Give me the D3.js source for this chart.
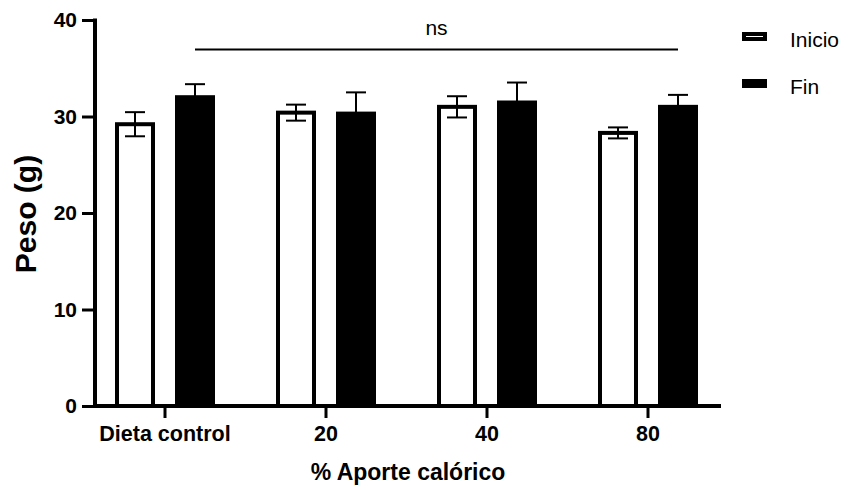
<!DOCTYPE html>
<html>
<head>
<meta charset="utf-8">
<script src="https://cdn.jsdelivr.net/npm/d3@7"></script>
<style>
  html, body { margin: 0; padding: 0; background: #fff; }
  svg { display: block; font-family: "Liberation Sans", Arial, sans-serif; }
</style>
</head>
<body>
<svg id="chart" width="849" height="490"></svg>
<script>
const categories = ["Dieta control", "20", "40", "80"];
const seriesNames = ["Inicio", "Fin"];
const inicioMeans = [29.2, 30.4, 31.0, 28.3];
const inicioErrors = [1.25, 0.83, 1.1, 0.57];
const finMeans = [32.0, 30.3, 31.45, 31.0];
const finErrors = [1.35, 2.2, 2.07, 1.24];
const yTicks = [0, 10, 20, 30, 40];
const yLabel = "Peso (g)";
const xLabel = "% Aporte calórico";
const sigLabel = "ns";

const data = [];
categories.forEach((c, i) => {
  data.push({cat: c, series: "Inicio", mean: inicioMeans[i], err: inicioErrors[i]});
  data.push({cat: c, series: "Fin", mean: finMeans[i], err: finErrors[i]});
});

const svg = d3.select("#chart");
const y = d3.scaleLinear().domain([0, 40]).range([406, 20]);
const x0 = d3.scaleBand().domain(categories).range([84.5, 728.5]);
const x1 = d3.scalePoint().domain(seriesNames).range([-30, 30]);
const cx = d => x0(d.cat) + x0.bandwidth() / 2 + x1(d.series);
const barW = 36;
const fillColor = {Inicio: "#fff", Fin: "#000"};

// bars
svg.append("g").selectAll("rect").data(data).join("rect")
  .attr("x", d => cx(d) - barW / 2)
  .attr("y", d => y(d.mean))
  .attr("width", barW)
  .attr("height", d => y(0) - y(d.mean))
  .attr("fill", d => fillColor[d.series])
  .attr("stroke", "#000")
  .attr("stroke-width", 4);

// error bars
const eb = svg.append("g").attr("stroke", "#000").attr("stroke-width", 2);
data.forEach(d => {
  const c = cx(d);
  eb.append("line").attr("x1", c).attr("x2", c).attr("y1", y(d.mean + d.err)).attr("y2", y(d.mean - d.err));
  eb.append("line").attr("x1", c - 10).attr("x2", c + 10).attr("y1", y(d.mean + d.err)).attr("y2", y(d.mean + d.err));
  eb.append("line").attr("x1", c - 10).attr("x2", c + 10).attr("y1", y(d.mean - d.err)).attr("y2", y(d.mean - d.err));
});

// y axis
const yAxis = svg.append("g").attr("transform", "translate(95,0)")
  .call(d3.axisLeft(y).tickValues(yTicks).tickSize(13).tickSizeOuter(0).tickPadding(5));
yAxis.select(".domain").remove();
yAxis.selectAll(".tick line").attr("stroke", "#000").attr("stroke-width", 3);
yAxis.selectAll(".tick text").attr("font-size", 21).attr("font-weight", "bold")
  .attr("font-family", "Liberation Sans, Arial, sans-serif").attr("fill", "#000");
svg.append("line").attr("x1", 95).attr("x2", 95).attr("y1", y(40) - 1.5).attr("y2", y(0) + 2)
  .attr("stroke", "#000").attr("stroke-width", 4);

// x axis
const xAxis = svg.append("g").attr("transform", "translate(0,406)")
  .call(d3.axisBottom(x0).tickSize(12).tickSizeOuter(0).tickPadding(8));
xAxis.select(".domain").remove();
xAxis.selectAll(".tick line").attr("stroke", "#000").attr("stroke-width", 3);
xAxis.selectAll(".tick text").attr("font-size", 21.5).attr("font-weight", "bold")
  .attr("font-family", "Liberation Sans, Arial, sans-serif").attr("fill", "#000");
svg.append("line").attr("x1", 93).attr("x2", 721).attr("y1", y(0)).attr("y2", y(0))
  .attr("stroke", "#000").attr("stroke-width", 4);

// axis titles
svg.append("text").attr("x", 408).attr("y", 480).attr("text-anchor", "middle")
  .attr("font-size", 23).attr("font-weight", "bold").text(xLabel);
svg.append("text").attr("transform", "translate(36,214) rotate(-90)").attr("text-anchor", "middle")
  .attr("font-size", 30).attr("font-weight", "bold").text(yLabel);

// significance bracket
const sigX1 = x0(categories[0]) + x0.bandwidth() / 2 + x1("Fin");
const sigX2 = x0(categories[3]) + x0.bandwidth() / 2 + x1("Fin");
svg.append("line").attr("x1", sigX1).attr("x2", sigX2).attr("y1", 49.5).attr("y2", 49.5)
  .attr("stroke", "#000").attr("stroke-width", 2);
svg.append("text").attr("x", (sigX1 + sigX2) / 2).attr("y", 35).attr("text-anchor", "middle")
  .attr("font-size", 21).text(sigLabel);

// legend
const legend = svg.append("g");
seriesNames.forEach((s, i) => {
  const ly = 36 + i * 47;
  legend.append("rect").attr("x", 744).attr("y", ly - 2).attr("width", 21).attr("height", 5)
    .attr("fill", fillColor[s]).attr("stroke", "#000").attr("stroke-width", 4);
  legend.append("text").attr("x", 790).attr("y", ly + 11).attr("font-size", 21).text(s);
});
</script>
</body>
</html>
